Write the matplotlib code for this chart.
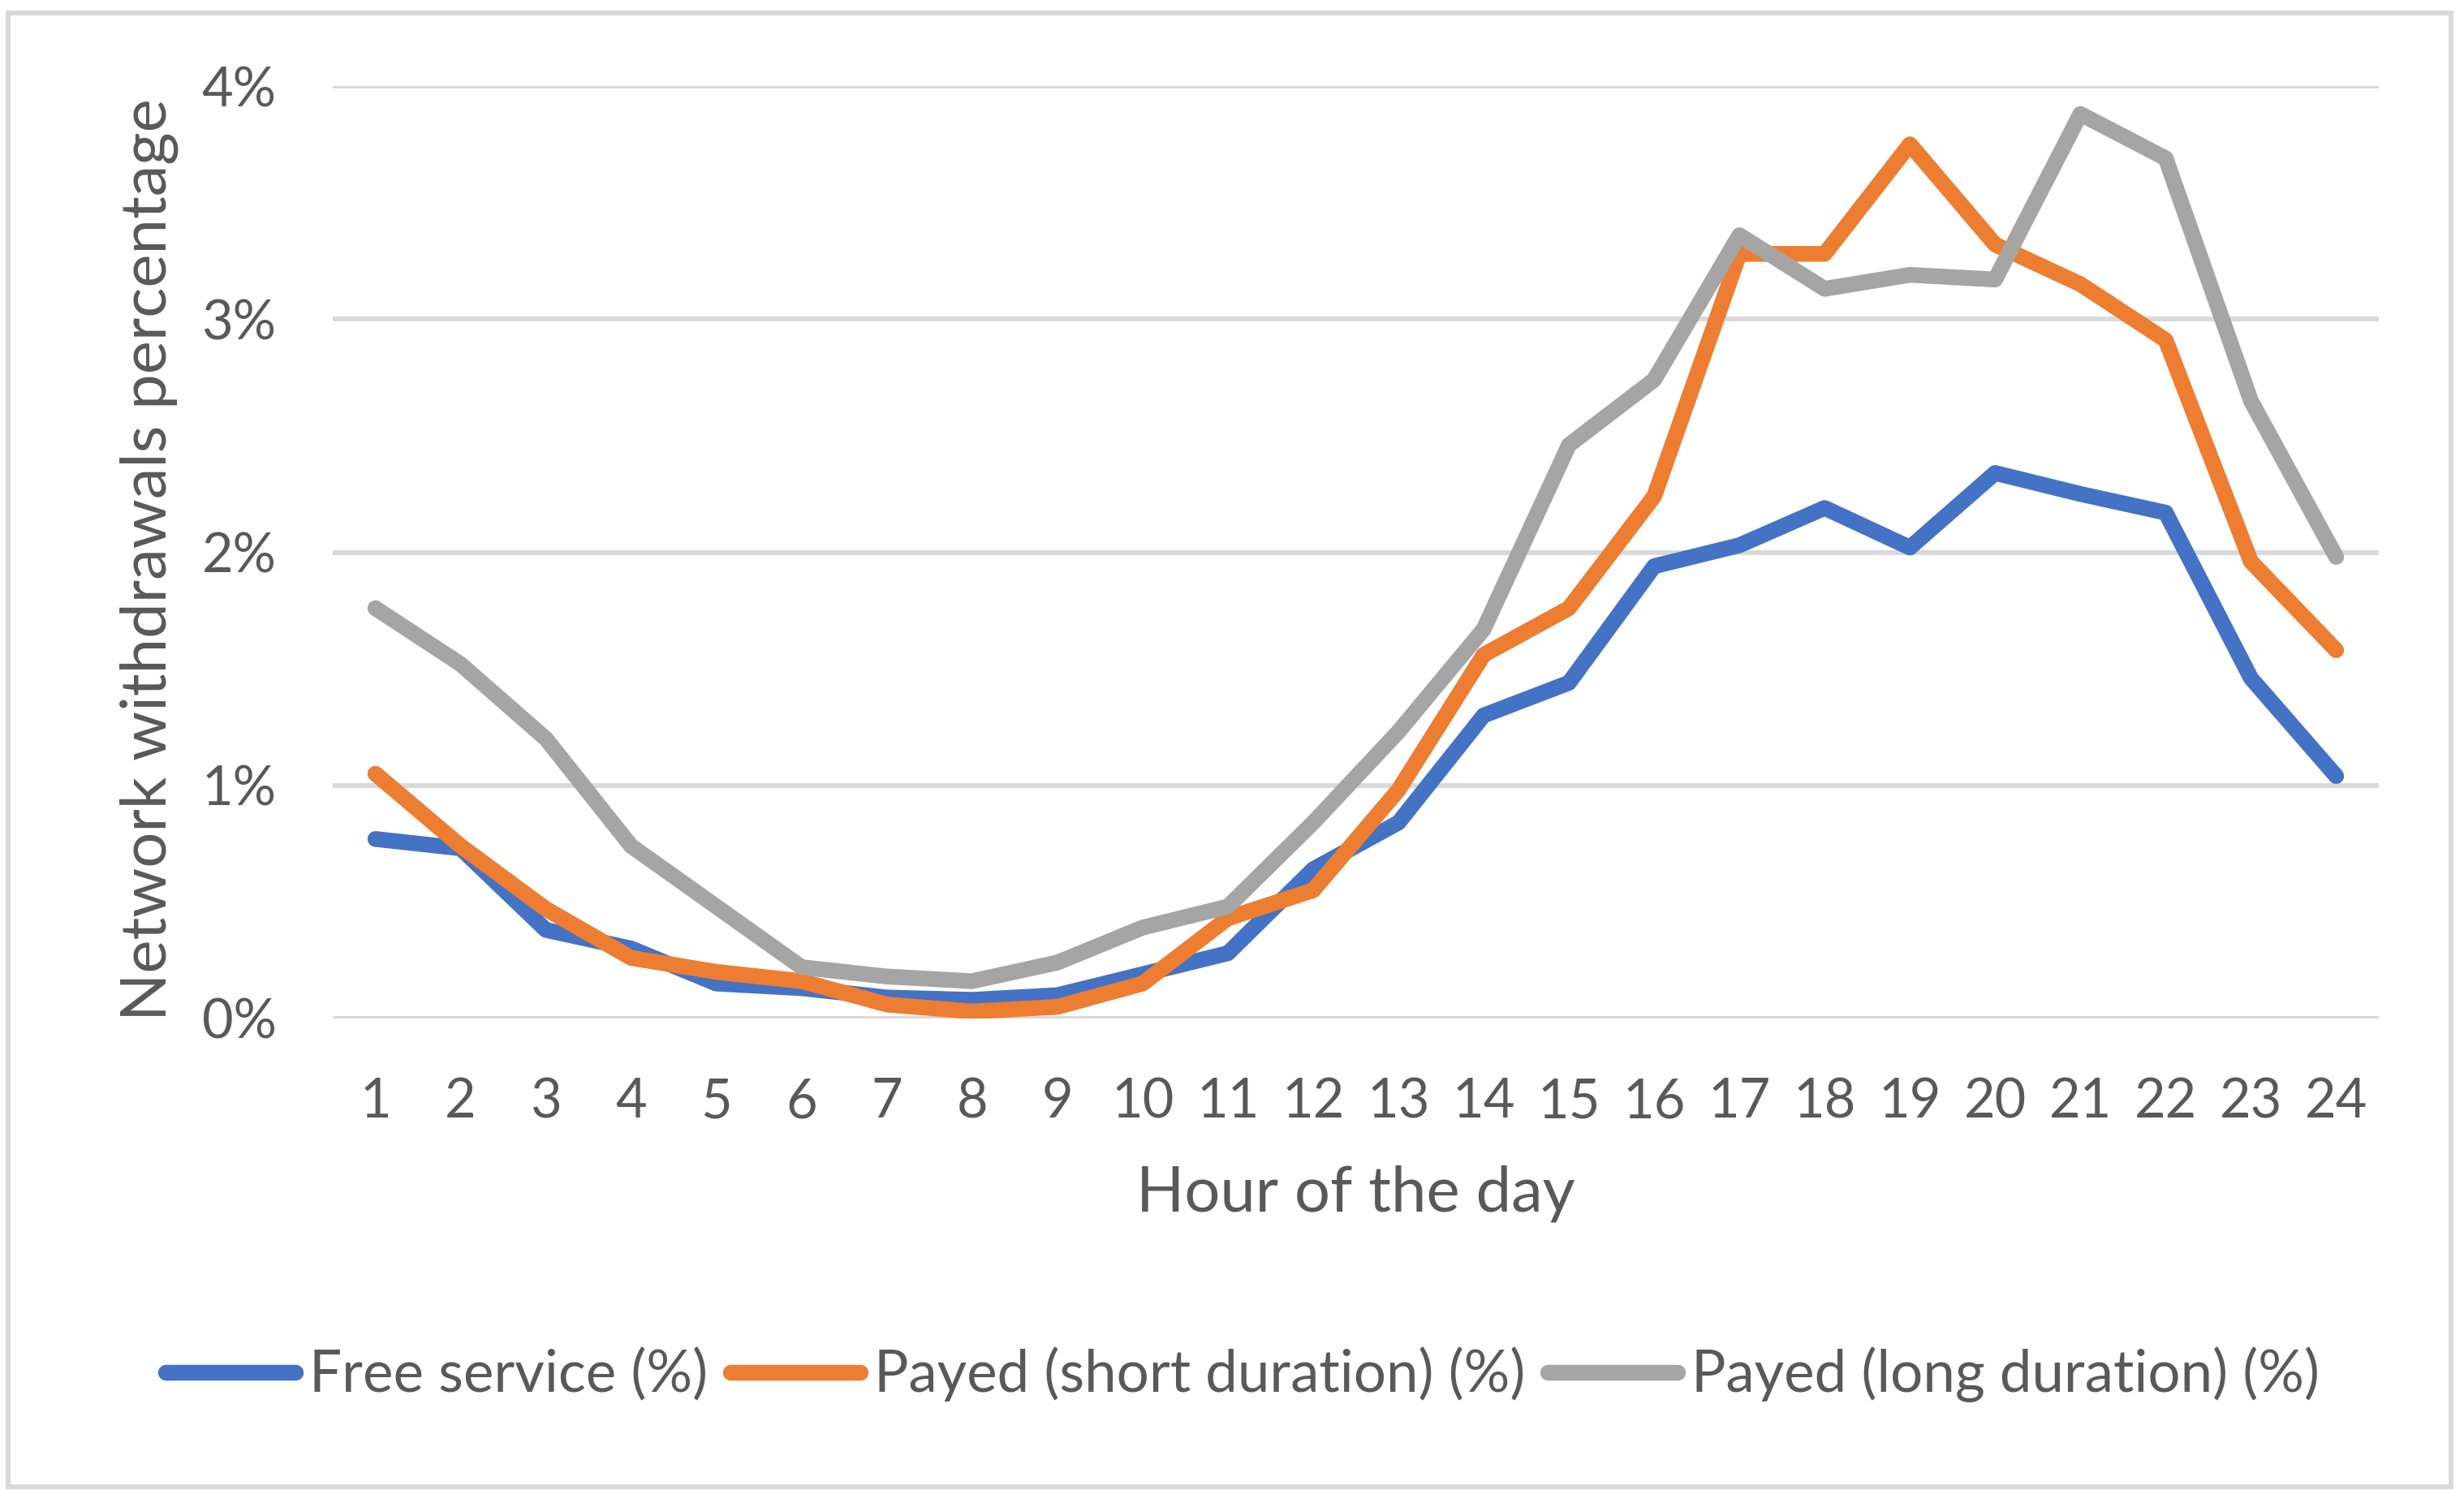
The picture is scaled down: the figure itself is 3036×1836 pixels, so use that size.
import matplotlib
matplotlib.use("Agg")
import matplotlib.pyplot as plt
from matplotlib.ticker import PercentFormatter
from matplotlib.patches import Rectangle

plt.rcParams['font.family'] = ['Lato', 'DejaVu Sans']

# Hours of the day (category axis)
hours = list(range(1, 25))

# Share of network withdrawals per hour (%)
free_service = [0.77, 0.73, 0.38, 0.30, 0.15, 0.13, 0.09, 0.08, 0.10, 0.19, 0.28, 0.64,
                0.84, 1.30, 1.44, 1.94, 2.03, 2.19, 2.02, 2.34, 2.25, 2.17, 1.46, 1.04]
payed_short = [1.05, 0.74, 0.47, 0.26, 0.20, 0.16, 0.06, 0.03, 0.05, 0.15, 0.43, 0.55,
               0.98, 1.56, 1.76, 2.24, 3.28, 3.28, 3.75, 3.32, 3.15, 2.91, 1.96, 1.58]
payed_long = [1.76, 1.52, 1.20, 0.74, 0.48, 0.22, 0.18, 0.16, 0.24, 0.39, 0.48, 0.84,
              1.23, 1.67, 2.46, 2.74, 3.36, 3.13, 3.19, 3.17, 3.88, 3.69, 2.65, 1.98]

series_names = ['Free service (%)', 'Payed (short duration) (%)', 'Payed (long duration) (%)']
colors = ['#4472C4', '#ED7D31', '#A5A5A5']
text_color = '#595959'
grid_color = '#D9D9D9'

W, H = 3036, 1836
fig = plt.figure(figsize=(W / 100, H / 100), dpi=100)
ax = fig.add_axes([410 / W, 1 - 1255 / H, (2931 - 410) / W, (1255 - 106) / H])

for vals, name, c in zip([free_service, payed_short, payed_long], series_names, colors):
    ax.plot(hours, vals, color=c, lw=14, label=name,
            solid_capstyle='round', solid_joinstyle='round')

ax.set_xlim(0.5, 24.5)
ax.set_ylim(0, 4)
ax.set_yticks([0, 1, 2, 3, 4])
ax.set_xticks(hours)
ax.yaxis.set_major_formatter(PercentFormatter(xmax=100, decimals=0))
ax.grid(axis='y', color=grid_color, lw=4.3)
ax.set_axisbelow(True)
for s in ax.spines.values():
    s.set_visible(False)
ax.tick_params(axis='both', length=0, labelsize=48, colors=text_color)
ax.tick_params(axis='y', pad=50)
ax.tick_params(axis='x', pad=52)

fig.text(1670 / W, 1 - 1471 / H, 'Hour of the day', ha='center', va='center',
         fontsize=56, color=text_color)
fig.text(184 / W, 1 - 690 / H, 'Network withdrawals percentage', ha='center', va='center',
         rotation=90, fontsize=56, color=text_color)

fig.legend(loc='center', bbox_to_anchor=(1531 / W, 1 - 1694 / H), ncol=3, frameon=False,
           fontsize=51, labelcolor=text_color, handlelength=2.25, handletextpad=0.24,
           columnspacing=0.4)

fig.patches.append(Rectangle((10 / W, 4 / H), (W - 26) / W, (H - 20) / H,
                             transform=fig.transFigure, fill=False,
                             edgecolor=grid_color, lw=4.3))

fig.savefig('out.png', dpi=100)
